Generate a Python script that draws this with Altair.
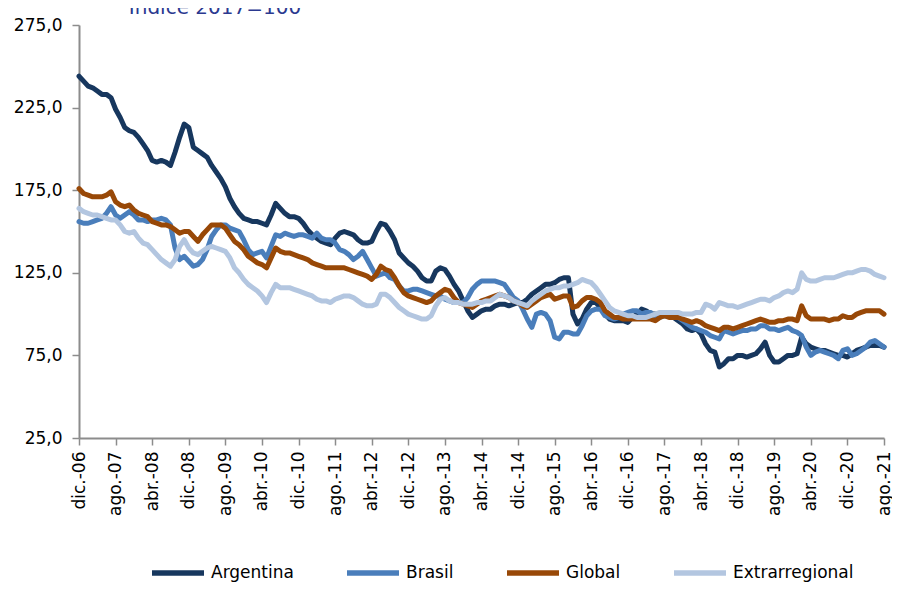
import altair as alt
import pandas as pd

TITLE = "Índice 2017=100"
SERIES = ["Argentina", "Brasil", "Global", "Extrarregional"]
COLORS = ["#17375e", "#4a7ebb", "#984807", "#b3c6e0"]
MONTHS_ES = ["ene.", "feb.", "mar.", "abr.", "may.", "jun.", "jul.", "ago.", "sept.", "oct.", "nov.", "dic."]
Y_TICKS = [25, 75, 125, 175, 225, 275]

argentina = [
    244, 241, 238, 237, 235, 233, 233, 231, 224, 219,
    213, 211, 210, 207, 203, 199, 193, 192, 193, 192,
    190, 198, 207, 215, 213, 201, 199, 197, 195, 190,
    186, 182, 177, 170, 165, 161, 158, 157, 156, 156,
    155, 154, 160, 167, 164, 161, 159, 159, 158, 155,
    151, 148, 146, 144, 143, 142, 146, 149, 150, 149,
    148, 145, 143, 143, 144, 150, 155, 154, 150, 145,
    137, 134, 131, 129, 126, 122, 120, 120, 126, 128,
    127, 123, 118, 114, 108, 102, 98, 100, 102, 103,
    103, 105, 106, 106, 105, 106, 107, 107, 109, 112,
    114, 116, 118, 118, 119, 121, 122, 122, 100, 94,
    97, 103, 107, 107, 104, 100, 97, 96, 96, 96,
    95, 98, 100, 103, 102, 100, 100, 99, 99, 99,
    98, 96, 94, 91, 90, 91, 88, 82, 78, 77,
    68, 70, 73, 73, 75, 75, 74, 75, 76, 79,
    83, 75, 71, 71, 73, 75, 75, 76, 86, 82,
    80, 79, 78, 78, 77, 76, 75, 75, 74, 76,
    78, 79, 80, 81, 81, 81, 80,
]
brasil = [
    156, 155, 155, 156, 157, 158, 161, 165, 160, 158,
    160, 162, 160, 157, 157, 156, 157, 157, 158, 157,
    154, 140, 133, 135, 132, 129, 130, 133, 139, 147,
    151, 154, 154, 152, 151, 150, 145, 139, 136, 137,
    138, 134, 141, 148, 147, 149, 148, 147, 148, 148,
    147, 146, 149, 146, 145, 145, 143, 139, 138, 136,
    133, 135, 138, 133, 128, 123, 124, 125, 122, 121,
    117, 114, 114, 115, 115, 114, 113, 112, 111, 111,
    109, 108, 107, 107, 107, 110, 115, 118, 120, 120,
    120, 120, 119, 118, 114, 110, 108, 103, 97, 92,
    100, 101, 100, 96, 86, 85, 89, 89, 88, 88,
    93, 99, 102, 103, 103, 99, 98, 97, 98, 100,
    101, 102, 102, 100, 101, 101, 97, 98, 99, 99,
    99, 98, 96, 94, 92, 91, 90, 89, 87, 86,
    85, 90, 89, 88, 89, 90, 90, 91, 91, 93,
    93, 91, 91, 90, 91, 92, 90, 89, 87, 80,
    75, 77, 78, 77, 76, 75, 73, 78, 79, 75,
    76, 78, 80, 83, 84, 82, 80,
]
global_ = [
    176, 173, 172, 171, 171, 171, 172, 174, 168, 166,
    165, 166, 163, 161, 160, 159, 156, 155, 154, 154,
    153, 151, 149, 150, 150, 147, 144, 148, 151, 154,
    154, 154, 152, 148, 144, 142, 139, 135, 133, 131,
    130, 128, 134, 140, 138, 137, 137, 136, 135, 134,
    133, 131, 130, 129, 128, 128, 128, 128, 128, 127,
    126, 125, 124, 123, 121, 124, 129, 127, 126, 122,
    117, 113, 111, 110, 109, 108, 107, 108, 111, 113,
    115, 114, 110, 107, 106, 105, 104, 106, 108, 109,
    110, 111, 112, 111, 110, 108, 107, 105, 104, 106,
    108, 110, 111, 112, 109, 110, 111, 111, 104, 105,
    108, 110, 110, 109, 107, 102, 100, 98, 98, 97,
    97, 97, 97, 97, 97, 97, 96, 98, 99, 98,
    98, 98, 97, 96, 95, 96, 95, 93, 92, 91,
    90, 92, 92, 91, 92, 93, 94, 95, 96, 97,
    96, 95, 95, 96, 96, 97, 97, 96, 105, 99,
    97, 97, 97, 97, 96, 97, 97, 99, 98, 98,
    100, 101, 102, 102, 102, 102, 100,
]
extrarregional = [
    164, 162, 161, 160, 160, 159, 158, 157, 157, 154,
    150, 149, 150, 146, 143, 142, 139, 136, 133, 131,
    129, 133, 141, 145, 140, 137, 136, 138, 140, 141,
    140, 139, 138, 134, 128, 125, 121, 118, 116, 114,
    111, 107, 113, 118, 116, 116, 116, 115, 114, 113,
    112, 111, 109, 108, 108, 107, 109, 110, 111, 111,
    110, 108, 106, 105, 105, 106, 112, 112, 110, 107,
    104, 102, 100, 99, 98, 97, 97, 99, 105, 109,
    110, 108, 107, 107, 106, 106, 106, 107, 107, 108,
    108, 110, 112, 111, 110, 108, 107, 106, 105, 108,
    110, 112, 114, 115, 116, 116, 117, 117, 118, 119,
    121, 120, 119, 116, 112, 108, 104, 102, 101, 100,
    99, 99, 98, 98, 98, 99, 100, 101, 101, 101,
    101, 101, 100, 100, 100, 101, 101, 106, 105, 103,
    107, 106, 105, 105, 104, 105, 106, 107, 108, 109,
    109, 108, 110, 111, 113, 114, 113, 115, 125, 121,
    120, 120, 121, 122, 122, 122, 123, 124, 125, 125,
    126, 127, 127, 126, 124, 123, 122,
]

n = len(argentina)
labels = []
for i in range(n):
    k = 11 + i
    labels.append(f"{MONTHS_ES[k % 12]}-{(2006 + k // 12) % 100:02d}")
tick_labels = labels[::8]

rows = []
for name, vals in zip(SERIES, [argentina, brasil, global_, extrarregional]):
    for lab, v in zip(labels, vals):
        rows.append({"mes": lab, "serie": name, "valor": v})
df = pd.DataFrame(rows)

FONT = "DejaVu Sans"
AXIS_GREY = "#8c8c8c"

x_enc = alt.X(
    "mes:O", sort=labels, title=None,
    scale=alt.Scale(type="point", padding=0),
    axis=alt.Axis(values=tick_labels, labelAngle=-90, labelFontSize=17, labelFont=FONT,
                  labelColor="#000000", domainColor=AXIS_GREY, domainWidth=2,
                  tickColor=AXIS_GREY, tickWidth=1.5, tickSize=7, labelPadding=6,
                  grid=False, labelOverlap=False),
)
y_enc = alt.Y(
    "valor:Q", title=None,
    scale=alt.Scale(domain=[25, 275], nice=False, zero=False),
    axis=alt.Axis(values=Y_TICKS, labelExpr="replace(format(datum.value, '.1f'), '.', ',')",
                  labelFontSize=17, labelFont=FONT, labelColor="#000000",
                  domainColor=AXIS_GREY, domainWidth=2, tickColor=AXIS_GREY,
                  tickWidth=1.5, tickSize=7, labelPadding=10, grid=False),
)
color_enc = alt.Color(
    "serie:N",
    scale=alt.Scale(domain=SERIES, range=COLORS),
    legend=alt.Legend(title=None, orient="none", legendX=70, legendY=519,
                      direction="horizontal", symbolType="stroke", symbolStrokeWidth=5.5,
                      symbolSize=2704, labelFontSize=17, labelFont=FONT,
                      labelColor="#000000", columnPadding=42, labelOffset=4),
)

layers = []
for s in SERIES:
    layers.append(
        alt.Chart(df)
        .transform_filter(alt.datum.serie == s)
        .mark_line(strokeWidth=5, strokeJoin="round", strokeCap="round")
        .encode(x=x_enc, y=y_enc, color=color_enc)
    )

title_layer = alt.Chart(pd.DataFrame({"t": [TITLE]})).mark_text(
    align="center", baseline="alphabetic", fontSize=20, font=FONT, color="#2b3990"
).encode(x=alt.value(136), y=alt.value(-11), text="t:N")

chart = alt.layer(*layers, title_layer).properties(
    width=805, height=413,
    padding={"left": 71, "top": 17, "right": 8, "bottom": 144},
    autosize=alt.AutoSizeParams(type="none"),
).configure_view(stroke=None)

chart.save("out.html", embed_options={"renderer": "svg", "actions": False})
